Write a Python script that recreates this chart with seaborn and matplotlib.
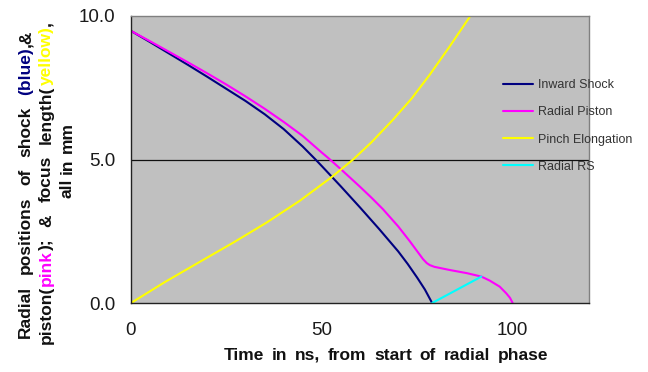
import re
import matplotlib
matplotlib.use("Agg")
import matplotlib.pyplot as plt
import seaborn as sns
import pandas as pd
from matplotlib.lines import Line2D

# ---- data ----
shock_t = [0, 5, 10, 15, 20, 25, 30, 35, 40, 45, 48.2, 50, 55, 60, 65, 70, 72.5, 75, 77, 78.9]
shock_r = [9.48, 9.09, 8.69, 8.29, 7.88, 7.46, 7.04, 6.58, 6.06, 5.45, 5.02, 4.77, 4.06,
           3.33, 2.58, 1.80, 1.36, 0.88, 0.47, 0.0]

piston_t = [0, 5, 10, 15, 20, 25, 30, 35, 40, 45, 50, 51.7, 55, 57.3, 60, 63, 66, 70, 73,
            75, 76.5, 77.5, 78.3, 79.5, 83.5, 88, 91.8, 94, 96.6, 98.3, 99.3, 100.0]
piston_r = [9.48, 9.12, 8.75, 8.38, 8.00, 7.61, 7.20, 6.77, 6.31, 5.82, 5.24, 5.05, 4.66,
            4.38, 4.05, 3.67, 3.27, 2.67, 2.16, 1.80, 1.53, 1.39, 1.32, 1.26, 1.15, 1.04,
            0.92, 0.78, 0.57, 0.34, 0.18, 0.0]

pinch_t = [0, 9, 18.1, 27, 35.5, 44.2, 52.5, 58.2, 63, 68.6, 73.5, 78.3, 83.5, 88.9]
pinch_r = [0, 0.74, 1.44, 2.12, 2.80, 3.56, 4.38, 5.0, 5.60, 6.38, 7.12, 7.96, 8.94, 10.0]

rs_t = [78.9, 91.8]
rs_r = [0.0, 0.92]

series_names = ["Inward Shock", "Radial Piston", "Pinch Elongation", "Radial RS"]
series_colors = ["#000080", "#FF00FF", "#FFFF00", "#00FFFF"]

x_ticks = [0, 50, 100]
y_ticks = [0.0, 5.0, 10.0]

x_title = "Time in ns, from start of radial phase"
y_title_lines = [
    [("Radial positions of shock ", "#111111"), ("(blue)", "#000080"), (",&", "#111111")],
    [("piston(", "#111111"), ("pink", "#FF00FF"), ("); & focus length(", "#111111"),
     ("yellow)", "#FFFF00"), (",", "#111111")],
    [("all in mm", "#111111")],
]

# ---- build long-form table ----
frames = []
for name, t, r in zip(series_names, [shock_t, piston_t, pinch_t, rs_t],
                      [shock_r, piston_r, pinch_r, rs_r]):
    frames.append(pd.DataFrame({"t": t, "r": r, "series": name}))
df = pd.concat(frames, ignore_index=True)

sns.set_style("white")
plt.rcParams["font.family"] = ["Liberation Sans", "DejaVu Sans"]

W, H = 648, 372
fig = plt.figure(figsize=(W / 100, H / 100), dpi=100)
ax = fig.add_axes([131 / W, 1 - 303 / H, 458 / W, 287 / H])
ax.set_facecolor("#C0C0C0")

sns.lineplot(data=df, x="t", y="r", hue="series", hue_order=series_names,
             palette=series_colors, estimator=None, sort=False, linewidth=1.5,
             legend=False, ax=ax)

ax.axhline(5.0, color="#111111", linewidth=0.9, zorder=1)

ax.set_xlim(0, 120)
ax.set_ylim(0, 10)
ax.set_xticks(x_ticks)
ax.set_yticks(y_ticks)
ax.set_yticklabels([f"{v:.1f}" for v in y_ticks])
ax.set_xlabel("")
ax.set_ylabel("")
ax.tick_params(axis="both", which="major", direction="out", length=5, width=1,
               color="#333333", labelsize=13.5, labelcolor="#1a1a1a")
ax.tick_params(axis="y", pad=6)
ax.tick_params(axis="x", pad=9)

for s in ["left", "bottom"]:
    ax.spines[s].set_color("#222222")
    ax.spines[s].set_linewidth(1.0)
for s in ["top", "right"]:
    ax.spines[s].set_color("#808080")
    ax.spines[s].set_linewidth(1.0)
    ax.spines[s].set_visible(True)

# legend (frameless, straddling the right edge)
handles = [Line2D([], [], color=c, linewidth=1.5) for c in series_colors]
leg = fig.legend(handles, series_names, loc="upper left",
                 bbox_to_anchor=(503 / W, 1 - 79 / H), frameon=False,
                 fontsize=9, handlelength=2.4, handletextpad=0.4,
                 labelspacing=1.22, borderpad=0, borderaxespad=0)
for txt in leg.get_texts():
    txt.set_color("#333333")

# ---- justified (word-spaced) text helper, used for the axis titles ----
renderer = fig.canvas.get_renderer()


def text_width(s, size):
    t = fig.text(0, 0, s, fontsize=size, fontweight="bold")
    bb = t.get_window_extent(renderer)
    t.remove()
    return bb.width


def justified(pieces, base_px, center_px, target, size, vertical):
    tokens = []
    full = ""
    for s, c in pieces:
        i = 0
        for part in re.split("( )", s):
            if part and part != " ":
                tokens.append((len(full) + i, part, c))
            i += len(part)
        full += s
    natural = text_width(full, size)
    nsp = full.count(" ")
    extra = (target - natural) / nsp if (target and nsp) else 0.0
    start = center_px - (natural + extra * nsp) / 2
    for idx, txt, c in tokens:
        pre = full[:idx]
        off = (text_width(pre + txt[0], size) - text_width(txt[0], size)) if pre else 0.0
        off += extra * pre.count(" ")
        if vertical:
            fig.text(base_px / W, (start + off) / H, txt, rotation=90,
                     rotation_mode="anchor", ha="left", va="baseline",
                     fontsize=size, fontweight="bold", color=c)
        else:
            fig.text((start + off) / W, base_px / H, txt, ha="left",
                     va="baseline", fontsize=size, fontweight="bold", color=c)


# x title (baseline at y=360 from top, centred at x=386)
justified([(x_title, "#111111")], H - 360, 386, 325, 12.5, vertical=False)

# y title, three rotated lines
justified(y_title_lines[0], 30, H - 184, 308, 12.5, vertical=True)
justified(y_title_lines[1], 51, H - 183, 323, 12.5, vertical=True)
justified(y_title_lines[2], 72, H - 160, None, 12.5, vertical=True)

fig.savefig("out.png", dpi=100, facecolor="white")
